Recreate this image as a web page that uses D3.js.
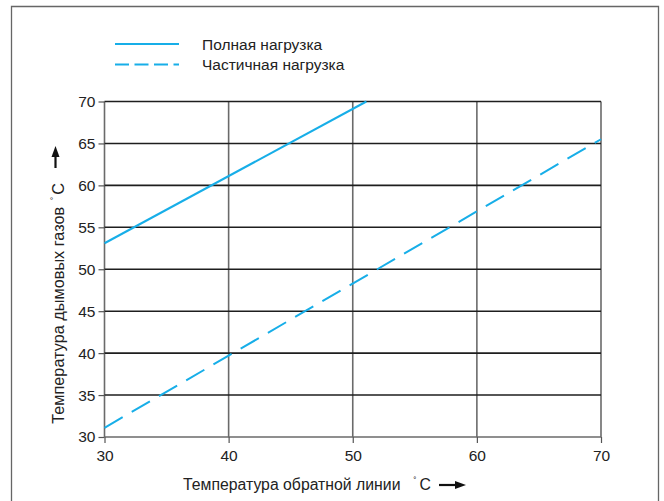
<!DOCTYPE html>
<html><head><meta charset="utf-8">
<script src="https://cdn.jsdelivr.net/npm/d3@7"></script>
<style>
body{margin:0;background:#fff;}
text{font-family:"Liberation Sans",Arial,sans-serif;fill:#222;}
</style></head>
<body>
<svg id="c" width="664" height="501"></svg>
<script>
// data
const fullLoadX = [30, 51.1];
const fullLoadY = [53.1, 70];
const partLoadX = [30, 70];
const partLoadY = [31.1, 65.5];
const xTicks = [30, 40, 50, 60, 70];
const yTicks = [30, 35, 40, 45, 50, 55, 60, 65, 70];
const seriesNames = ["Полная нагрузка", "Частичная нагрузка"];
const xTitle = "Температура обратной линии";
const yTitle = "Температура дымовых газов";
const unitLabel = "C";

const svg = d3.select("#c");
const color = "#17aee8";
const L = 104.5, R = 601, T = 101.5, B = 437;
const x = d3.scaleLinear().domain([30, 70]).range([L, R]);
const y = d3.scaleLinear().domain([30, 70]).range([B, T]);

// frame
svg.append("path").attr("d", `M11.5,510 V6.5 H658.5 V510`).attr("fill","none").attr("stroke","#666").attr("stroke-width",1.3);

// grid
svg.append("g").selectAll("line").data(xTicks).join("line")
  .attr("x1", d => x(d)).attr("x2", d => x(d)).attr("y1", T).attr("y2", B)
  .attr("stroke", "#6a6a6a").attr("stroke-width", 1.6);
svg.append("g").selectAll("line").data(yTicks).join("line")
  .attr("x1", L).attr("x2", R).attr("y1", d => y(d)).attr("y2", d => y(d))
  .attr("stroke", d => d === 30 ? "#6a6a6a" : "#1e1e1e").attr("stroke-width", 1.6);

// axes
const xa = svg.append("g").attr("transform", `translate(0,${B})`)
  .call(d3.axisBottom(x).tickValues(xTicks).tickSize(6).tickSizeOuter(0).tickFormat(d3.format("d")));
const ya = svg.append("g").attr("transform", `translate(${L},0)`)
  .call(d3.axisLeft(y).tickValues(yTicks).tickSize(6).tickSizeOuter(0).tickFormat(d3.format("d")));
[xa, ya].forEach(a => {
  a.select(".domain").remove();
  a.selectAll(".tick line").attr("stroke", "#555").attr("stroke-width", 1.2);
  a.selectAll(".tick text").attr("font-family", "Liberation Sans, Arial, sans-serif").attr("font-size", 15.5).attr("fill", "#222");
});
xa.selectAll(".tick text").attr("dy", "0.71em").attr("y", 13);
ya.selectAll(".tick text").attr("x", -9);

// series
const line = d3.line().x(d => x(d[0])).y(d => y(d[1]));
const full = d3.zip(fullLoadX, fullLoadY);
const part = d3.zip(partLoadX, partLoadY);
svg.append("path").datum(full).attr("d", line).attr("fill","none").attr("stroke",color).attr("stroke-width",2);
svg.append("path").datum(part).attr("d", line).attr("fill","none").attr("stroke",color).attr("stroke-width",2)
  .attr("stroke-dasharray","21,10.5");

// legend
const leg = svg.append("g");
seriesNames.forEach((n, i) => {
  const yy = 44 + i * 20.5;
  leg.append("line").attr("x1",115).attr("x2",179).attr("y1",yy).attr("y2",yy)
    .attr("stroke",color).attr("stroke-width",2.2).attr("stroke-dasharray", i ? "14,5.5" : null);
  leg.append("text").attr("x",202).attr("y",yy+5.5).attr("font-size",15.5).text(n);
});

// axis titles
const xt = svg.append("text").attr("x",183).attr("y",490).attr("font-size",15.8);
xt.append("tspan").text(xTitle);
xt.append("tspan").attr("dx",13).attr("dy",-6).attr("font-size",9).text("˚");
xt.append("tspan").attr("dx",3).attr("dy",6).text(unitLabel);

const yt = svg.append("text").attr("transform","translate(64,183) rotate(-90)").attr("text-anchor","end").attr("font-size",16.3);
yt.append("tspan").text(yTitle);
yt.append("tspan").attr("dx",7).attr("dy",-6).attr("font-size",9).text("˚");
yt.append("tspan").attr("dx",2).attr("dy",6).text(unitLabel);

// arrows
function arrow(x1,y1,x2,y2){
  const ang = Math.atan2(y2-y1,x2-x1), hl=11, hw=4;
  const bx = x2 - hl*Math.cos(ang), by = y2 - hl*Math.sin(ang);
  svg.append("line").attr("x1",x1).attr("y1",y1).attr("x2",bx+1*Math.cos(ang)).attr("y2",by+1*Math.sin(ang)).attr("stroke","#111").attr("stroke-width",2.2);
  svg.append("path").attr("d",`M${x2},${y2} L${bx - hw*Math.sin(ang)},${by + hw*Math.cos(ang)} L${bx + hw*Math.sin(ang)},${by - hw*Math.cos(ang)} Z`).attr("fill","#111");
}
arrow(439,485,466,485);
arrow(55.5,168,55.5,146);
</script>
</body></html>
